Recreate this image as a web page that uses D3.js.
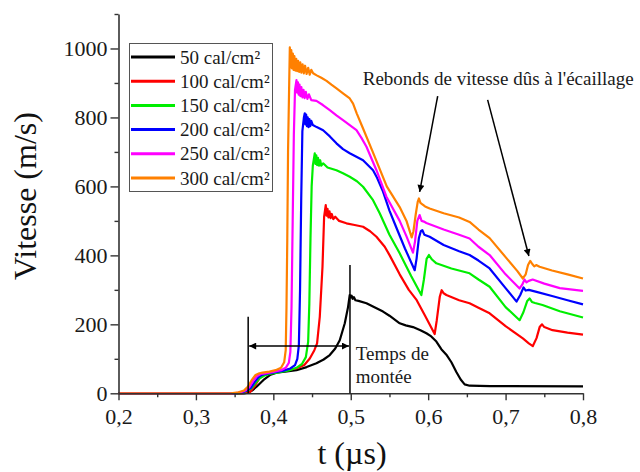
<!DOCTYPE html>
<html><head><meta charset="utf-8">
<script src="https://cdn.jsdelivr.net/npm/d3@7"></script>
<style>
html,body{margin:0;padding:0;background:#fff;}
svg{display:block;font-family:"Liberation Serif","Times New Roman","DejaVu Serif",serif;}
svg text{font-family:"Liberation Serif","Times New Roman","DejaVu Serif",serif;}
</style></head>
<body>
<svg id="chart" width="640" height="472"></svg>
<script>
// ---- data (t in µs, vitesse in m/s) ----
const seriesNames = ["50 cal/cm²","100 cal/cm²","150 cal/cm²","200 cal/cm²","250 cal/cm²","300 cal/cm²"];
const seriesColors = ["#000000","#ff0000","#00ee00","#0000ff","#ff00ff","#ff8000"];

const s50 = [[0.2,0],[0.362,0],[0.3675,2],[0.3725,8],[0.3783,19],[0.387,38],[0.3955,53],[0.4041,60],[0.415,63],[0.4299,67],[0.443,76],[0.4557,87],[0.465,98],[0.4729,111],[0.48,130],[0.4858,154],[0.4923,203],[0.4965,250],[0.4987,285],[0.5,278],[0.5012,283],[0.5025,274],[0.504,279],[0.506,270],[0.51,268],[0.5203,261],[0.53,250],[0.5417,237],[0.55,225],[0.5632,203],[0.571,197],[0.5804,192],[0.59,183],[0.5977,174],[0.604,165],[0.6106,150],[0.617,128],[0.6235,112],[0.63,90],[0.6364,62],[0.642,40],[0.6471,26],[0.6535,22],[0.68,21],[0.8,20]];

const s100 = [[0.2,0],[0.356,0],[0.362,1],[0.3697,3],[0.375,18],[0.3826,45],[0.389,55],[0.3955,60],[0.41,65],[0.4299,72],[0.44,82],[0.4471,101],[0.453,125],[0.4565,145],[0.46,222],[0.4635,367],[0.4656,512],[0.4677,546],[0.4688,515],[0.47,535],[0.4712,510],[0.4725,528],[0.474,508],[0.4755,520],[0.4775,505],[0.48,512],[0.485,500],[0.4944,493],[0.505,488],[0.5159,483],[0.525,470],[0.5332,454],[0.5439,425],[0.5503,400],[0.5632,345],[0.575,300],[0.5852,270],[0.596,225],[0.6084,172],[0.611,210],[0.615,280],[0.6174,299],[0.62,290],[0.6235,285],[0.64,270],[0.6535,261],[0.665,248],[0.6794,232],[0.7,195],[0.7223,159],[0.73,145],[0.7352,137],[0.74,160],[0.744,192],[0.7471,200],[0.75,192],[0.7606,183],[0.78,176],[0.8,170]];

const s150 = [[0.2,0],[0.354,0],[0.361,3],[0.367,8],[0.372,15],[0.377,30],[0.382,43],[0.388,51],[0.395,56],[0.405,60],[0.42,66],[0.43,74],[0.437,85],[0.442,105],[0.445,150],[0.4465,260],[0.448,450],[0.4495,600],[0.451,660],[0.4535,696],[0.4545,665],[0.4555,690],[0.4565,662],[0.4577,683],[0.459,660],[0.4605,676],[0.462,660],[0.4643,667],[0.47,655],[0.4815,647],[0.49,638],[0.4987,628],[0.508,615],[0.5159,599],[0.5288,560],[0.5374,522],[0.55,460],[0.5632,406],[0.578,340],[0.5912,285],[0.5945,330],[0.598,390],[0.601,401],[0.605,388],[0.6106,377],[0.63,362],[0.6535,348],[0.665,330],[0.6794,309],[0.7,250],[0.7181,212],[0.723,235],[0.728,268],[0.731,275],[0.734,265],[0.738,262],[0.7477,256],[0.77,238],[0.8,220]];

const s200 = [[0.2,0],[0.352,0],[0.36,3],[0.366,8],[0.371,16],[0.376,33],[0.381,47],[0.386,54],[0.392,57],[0.402,61],[0.412,65],[0.422,72],[0.428,82],[0.431,100],[0.433,140],[0.4345,300],[0.436,560],[0.4375,760],[0.4395,800],[0.4406,812],[0.4414,780],[0.4424,808],[0.4434,775],[0.4444,800],[0.4455,772],[0.4466,795],[0.4478,775],[0.449,790],[0.451,778],[0.456,772],[0.4643,763],[0.473,745],[0.4815,725],[0.49,708],[0.4987,696],[0.5159,676],[0.5288,647],[0.534,625],[0.5417,585],[0.55,530],[0.559,480],[0.57,420],[0.5826,357],[0.585,390],[0.588,450],[0.5905,470],[0.5925,473],[0.595,460],[0.6019,454],[0.62,430],[0.64,412],[0.6535,401],[0.665,385],[0.6794,362],[0.7,305],[0.7142,266],[0.719,285],[0.7232,307],[0.726,298],[0.73,300],[0.74,294],[0.76,282],[0.78,270],[0.8,258]];

const s250 = [[0.2,0],[0.35,0],[0.358,3],[0.364,8],[0.369,18],[0.374,36],[0.379,50],[0.384,56],[0.39,58],[0.4,62],[0.41,67],[0.416,74],[0.42,88],[0.422,120],[0.4235,250],[0.425,500],[0.4265,750],[0.428,880],[0.4299,908],[0.4308,872],[0.4318,902],[0.4328,866],[0.4338,895],[0.435,862],[0.4362,888],[0.4376,858],[0.439,880],[0.4405,856],[0.442,874],[0.444,854],[0.446,867],[0.449,850],[0.4557,848],[0.464,836],[0.4729,821],[0.4815,806],[0.49,792],[0.5074,763],[0.514,740],[0.5203,715],[0.5332,647],[0.5461,570],[0.5632,500],[0.572,455],[0.5804,408],[0.583,440],[0.586,500],[0.589,517],[0.5915,500],[0.5945,498],[0.5977,494],[0.62,475],[0.64,460],[0.6535,449],[0.665,425],[0.6794,401],[0.7,345],[0.7181,304],[0.7215,315],[0.7245,330],[0.727,322],[0.73,326],[0.735,330],[0.75,318],[0.77,305],[0.8,297]];

const s300 = [[0.2,0],[0.345,0],[0.355,3],[0.362,8],[0.367,19],[0.372,38],[0.377,53],[0.382,58],[0.386,60],[0.395,63],[0.403,67],[0.41,74],[0.414,90],[0.416,125],[0.417,250],[0.418,444],[0.419,700],[0.4205,900],[0.4213,1003],[0.4222,945],[0.4232,995],[0.4242,942],[0.4252,985],[0.4262,938],[0.4272,978],[0.4284,936],[0.4296,970],[0.4308,934],[0.432,964],[0.4334,932],[0.4348,960],[0.4362,930],[0.4378,954],[0.4394,928],[0.441,950],[0.443,926],[0.445,944],[0.447,924],[0.449,938],[0.4514,928],[0.456,922],[0.462,915],[0.4687,906],[0.475,895],[0.4816,884],[0.49,870],[0.4987,855],[0.503,840],[0.5077,812],[0.5155,770],[0.5284,700],[0.5465,600],[0.5632,540],[0.572,500],[0.5787,452],[0.581,470],[0.584,520],[0.5865,555],[0.5881,565],[0.59,552],[0.5925,548],[0.596,542],[0.6019,536],[0.62,522],[0.64,510],[0.6535,497],[0.665,475],[0.6794,450],[0.7,395],[0.715,355],[0.7223,333],[0.726,345],[0.729,372],[0.7318,384],[0.7345,375],[0.737,368],[0.7395,372],[0.7439,367],[0.76,356],[0.78,345],[0.8,333]];

const allSeries = [s50, s100, s150, s200, s250, s300];

const xTicks = [0.2,0.3,0.4,0.5,0.6,0.7,0.8];
const xMinorTicks = [0.25,0.35,0.45,0.55,0.65,0.75];
const yTicks = [0,200,400,600,800,1000];
const yMinorTicks = [100,300,500,700,900,1100];

// annotations (data coordinates)
const riseStart = 0.3675, riseEnd = 0.499;
const riseLeftTop = 222, riseRightTop = 372, riseArrowY = 137;
const reboundArrows = [[[0.6123,862],[0.589,584]],[[0.6768,851],[0.7301,398]]];

// ---- layout ----
const FONT = "'Liberation Serif','Times New Roman','DejaVu Serif',serif";
const svg = d3.select("#chart");
const L = 118.5, R = 583, T = 14, B = 393.3;
const x = d3.scaleLinear().domain([0.2,0.8]).range([L,R]);
const y = d3.scaleLinear().domain([0,1100]).range([B,T]);
const fmtX = d => d3.format(".1f")(d).replace(".", ",");
const fmtY = d3.format("d");

const defs = svg.append("defs");
defs.append("marker").attr("id","ah").attr("viewBox","0 0 10 10").attr("refX",10).attr("refY",5)
  .attr("markerWidth",11).attr("markerHeight",7).attr("markerUnits","userSpaceOnUse").attr("orient","auto")
  .append("path").attr("d","M0,0 L10,5 L0,10 z").attr("fill","#000");
defs.append("marker").attr("id","ah2").attr("viewBox","0 0 10 10").attr("refX",10).attr("refY",5)
  .attr("markerWidth",13).attr("markerHeight",7).attr("markerUnits","userSpaceOnUse").attr("orient","auto-start-reverse")
  .append("path").attr("d","M0,0 L10,5 L0,10 z").attr("fill","#000");

// curves
const line = d3.line().x(d => x(d[0])).y(d => y(d[1]));
allSeries.forEach((s,i) => {
  svg.append("path").datum(s).attr("d", line).attr("fill","none")
    .attr("stroke", seriesColors[i]).attr("stroke-width", 2.2).attr("stroke-linejoin","round");
});

// axes
const axisColor = "#333";
svg.append("g").attr("transform",`translate(0,${B})`)
  .call(d3.axisBottom(x).tickValues(xTicks).tickFormat(fmtX).tickSize(7).tickPadding(8).tickSizeOuter(0));
svg.append("g").attr("transform",`translate(0,${B})`)
  .call(d3.axisBottom(x).tickValues(xMinorTicks).tickFormat("").tickSize(4).tickSizeOuter(0))
  .select(".domain").remove();
svg.append("g").attr("transform",`translate(${L},0)`)
  .call(d3.axisLeft(y).tickValues(yTicks).tickFormat(fmtY).tickSize(8).tickPadding(3).tickSizeOuter(0));
svg.append("g").attr("transform",`translate(${L},0)`)
  .call(d3.axisLeft(y).tickValues(yMinorTicks).tickFormat("").tickSize(4).tickSizeOuter(0))
  .select(".domain").remove();
svg.selectAll("g").attr("font-family", FONT);
svg.selectAll(".domain").attr("stroke",axisColor).attr("stroke-width",1.6);
svg.selectAll(".tick line").attr("stroke",axisColor).attr("stroke-width",1.4);
svg.selectAll(".tick text").style("font-family", FONT).attr("font-size",22).attr("fill","#1a1a1a");

// axis titles
svg.append("text").attr("transform",`translate(36,196) rotate(-90)`).attr("text-anchor","middle")
  .attr("font-size",32).attr("fill","#111").text("Vitesse (m/s)");
svg.append("text").attr("x",352).attr("y",464).attr("text-anchor","middle")
  .attr("font-size",32).attr("fill","#111").text("t (µs)");

// legend
const lg = svg.append("g");
lg.append("rect").attr("x",129.5).attr("y",43.5).attr("width",143).attr("height",148)
  .attr("fill","#fff").attr("stroke","#555").attr("stroke-width",1);
seriesNames.forEach((n,i) => {
  const yy = 57 + i*24.2;
  lg.append("line").attr("x1",131).attr("x2",175).attr("y1",yy).attr("y2",yy)
    .attr("stroke",seriesColors[i]).attr("stroke-width",3);
  lg.append("text").attr("x",180).attr("y",yy).attr("dy","0.35em").attr("font-size",19)
    .attr("fill","#1a1a1a").text(n);
});

// rise-time annotation
svg.append("line").attr("x1",x(riseStart)).attr("x2",x(riseStart)).attr("y1",y(0)).attr("y2",y(riseLeftTop))
  .attr("stroke","#000").attr("stroke-width",1.5);
svg.append("line").attr("x1",x(riseEnd)).attr("x2",x(riseEnd)).attr("y1",y(0)).attr("y2",y(riseRightTop))
  .attr("stroke","#000").attr("stroke-width",1.5);
svg.append("line").attr("x1",x(riseStart)+1).attr("x2",x(riseEnd)-1).attr("y1",y(riseArrowY)).attr("y2",y(riseArrowY))
  .attr("stroke","#000").attr("stroke-width",1.5).attr("marker-start","url(#ah2)").attr("marker-end","url(#ah2)");
svg.append("text").attr("x",x(0.5065)).attr("y",y(97)).attr("font-size",19).attr("fill","#1a1a1a").text("Temps de");
svg.append("text").attr("x",x(0.5065)).attr("y",y(30)).attr("font-size",19).attr("fill","#1a1a1a").text("montée");

// rebound annotation
svg.append("text").attr("x",x(0.5155)).attr("y",y(894)).attr("font-size",19).attr("fill","#1a1a1a")
  .text("Rebonds de vitesse dûs à l'écaillage");
reboundArrows.forEach(a => {
  svg.append("line").attr("x1",x(a[0][0])).attr("y1",y(a[0][1])).attr("x2",x(a[1][0])).attr("y2",y(a[1][1]))
    .attr("stroke","#000").attr("stroke-width",1.5).attr("marker-end","url(#ah)");
});
</script>
</body></html>
